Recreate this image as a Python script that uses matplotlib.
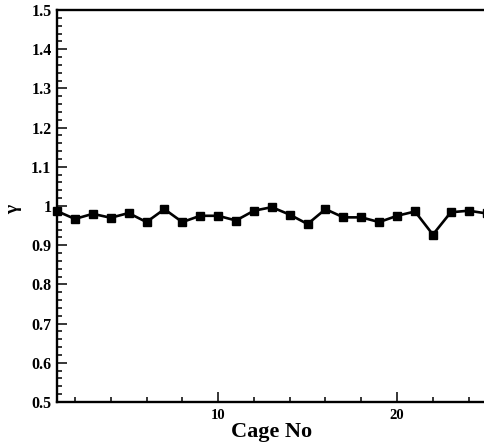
import matplotlib
matplotlib.use("Agg")
import matplotlib.pyplot as plt
from matplotlib.ticker import MultipleLocator, FixedLocator

cage_no = list(range(1, 26))
gamma = [0.987, 0.967, 0.980, 0.970, 0.982, 0.959, 0.992, 0.959, 0.975, 0.975,
         0.963, 0.988, 0.997, 0.978, 0.954, 0.992, 0.971, 0.971, 0.959, 0.975,
         0.986, 0.927, 0.984, 0.988, 0.981]
x_major = [10, 20]
y_major = [0.5, 0.6, 0.7, 0.8, 0.9, 1.0, 1.1, 1.2, 1.3, 1.4, 1.5]
y_labels = ["0.5", "0.6", "0.7", "0.8", "0.9", "1", "1.1", "1.2", "1.3", "1.4", "1.5"]

plt.rcParams['font.family'] = ['Liberation Serif', 'DejaVu Serif']
plt.rcParams['font.weight'] = 'bold'

W, H = 484, 444
fig = plt.figure(figsize=(W / 100, H / 100), dpi=100)
left, right_px, top, bottom = 57, 57 + 24 * 17.9, 10, 402
ax = fig.add_axes([left / W, (H - bottom) / H, (right_px - left) / W, (bottom - top) / H])

ax.plot(cage_no, gamma, color='black', lw=1.9, marker='s', ms=5.4,
        markerfacecolor='black', markeredgecolor='black', clip_on=False, zorder=3)

ax.set_xlim(1, 25)
ax.set_ylim(0.5, 1.5)
ax.xaxis.set_major_locator(FixedLocator(x_major))
ax.xaxis.set_minor_locator(MultipleLocator(2))
ax.yaxis.set_major_locator(FixedLocator(y_major))
ax.set_yticklabels(y_labels)
ax.yaxis.set_minor_locator(MultipleLocator(0.02))

ax.tick_params(which='both', direction='in', top=False, right=False, width=1.1)
ax.tick_params(which='major', length=7)
ax.tick_params(which='minor', length=3.6)
ax.tick_params(axis='y', pad=4, labelsize=11.5)
ax.tick_params(axis='x', pad=5, labelsize=10.5)
for lbl in ax.get_xticklabels() + ax.get_yticklabels():
    lbl.set_fontweight('bold')

for s in ['left', 'bottom', 'top']:
    ax.spines[s].set_linewidth(1.7)
ax.spines['right'].set_visible(False)

ax.set_xlabel('Cage No', fontsize=16, fontweight='bold', va='baseline')
ax.xaxis.set_label_coords((272 - left) / (right_px - left), (bottom - 437) / (bottom - top))
ax.set_ylabel('γ', fontsize=14, fontweight='bold', rotation=90, va='center', ha='center')
ax.yaxis.set_label_coords((14 - left) / (right_px - left), (bottom - 209) / (bottom - top))

fig.savefig('out.png', dpi=100)
